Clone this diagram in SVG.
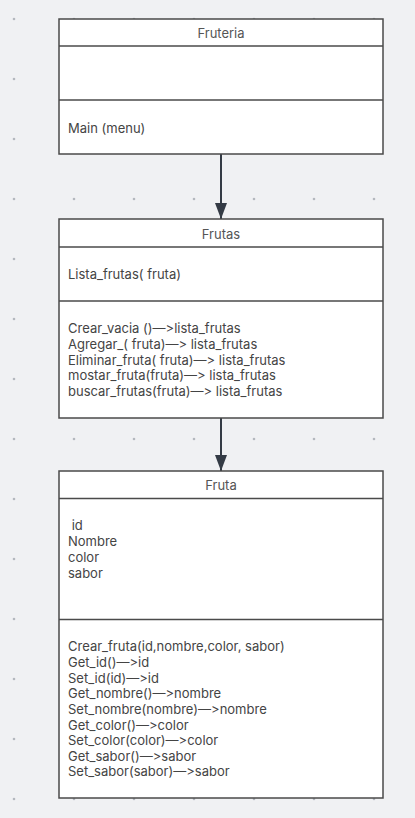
<svg xmlns="http://www.w3.org/2000/svg" width="415" height="818" viewBox="0 0 415 818">
<defs>
<pattern id="dots" x="0" y="0" width="60" height="60" patternUnits="userSpaceOnUse" patternTransform="translate(14,19)">
<circle cx="0" cy="0" r="1.3" fill="#b4b8be"/><circle cx="60" cy="0" r="1.3" fill="#b4b8be"/><circle cx="0" cy="60" r="1.3" fill="#b4b8be"/><circle cx="60" cy="60" r="1.3" fill="#b4b8be"/>
</pattern>
<marker id="arr" viewBox="0 0 16 12" refX="16" refY="6" markerWidth="16" markerHeight="12" markerUnits="userSpaceOnUse" orient="auto">
<path d="M0,0 L16,6 L0,12 z" fill="#343b45"/>
</marker>
<style>
.box{fill:#ffffff;stroke:#4a4a4a;stroke-width:1.5}
.ln{stroke:#4a4a4a;stroke-width:1.5}
text{font-family:Inter,"Liberation Sans",sans-serif;font-size:13px;font-variant-ligatures:none;font-feature-settings:"calt" 0,"liga" 0}
.hd{fill:#555555;text-anchor:middle}
.tx{fill:#444444}
.con{stroke:#343b45;stroke-width:2;fill:none}
</style>
</defs>
<rect width="415" height="818" fill="#f0f1f3"/>
<rect width="415" height="818" fill="url(#dots)"/>
<g id="connectors">
<path class="con" d="M221,154 V219" marker-end="url(#arr)"/>
<path class="con" d="M221,418 V471" marker-end="url(#arr)"/>
</g>
<g id="fruteria">
<rect class="box" x="59" y="19" width="324" height="135"/>
<line class="ln" x1="59" y1="46" x2="383" y2="46"/>
<line class="ln" x1="59" y1="100" x2="383" y2="100"/>
<text class="hd" x="221" y="38">Fruteria</text>
<text class="tx" x="68" y="133">Main (menu)</text>
</g>
<g id="frutas">
<rect class="box" x="59" y="219" width="324" height="199"/>
<line class="ln" x1="59" y1="247" x2="383" y2="247"/>
<line class="ln" x1="59" y1="301" x2="383" y2="301"/>
<text class="hd" x="221" y="238.5">Frutas</text>
<text class="tx" x="68" y="279">Lista_frutas( fruta)</text>
<text class="tx" y="333.2">
<tspan x="68">Crear_vacia ()—&gt;lista_frutas</tspan>
<tspan x="68" dy="15.75">Agregar_( fruta)—&gt; lista_frutas</tspan>
<tspan x="68" dy="15.75">Eliminar_fruta( fruta)—&gt; lista_frutas</tspan>
<tspan x="68" dy="15.75">mostar_fruta(fruta)—&gt; lista_frutas</tspan>
<tspan x="68" dy="15.75">buscar_frutas(fruta)—&gt; lista_frutas</tspan>
</text>
</g>
<g id="fruta">
<rect class="box" x="59" y="471" width="324" height="327"/>
<line class="ln" x1="59" y1="498.5" x2="383" y2="498.5"/>
<line class="ln" x1="59" y1="619.5" x2="383" y2="619.5"/>
<text class="hd" x="221" y="489.5">Fruta</text>
<text class="tx" y="530.2" xml:space="preserve">
<tspan x="68"> id</tspan>
<tspan x="68" dy="15.8">Nombre</tspan>
<tspan x="68" dy="15.8">color</tspan>
<tspan x="68" dy="15.8">sabor</tspan>
</text>
<text class="tx" y="651.2">
<tspan x="68">Crear_fruta(id,nombre,color, sabor)</tspan>
<tspan x="68" dy="15.66">Get_id()—&gt;id</tspan>
<tspan x="68" dy="15.66">Set_id(id)—&gt;id</tspan>
<tspan x="68" dy="15.66">Get_nombre()—&gt;nombre</tspan>
<tspan x="68" dy="15.66">Set_nombre(nombre)—&gt;nombre</tspan>
<tspan x="68" dy="15.66">Get_color()—&gt;color</tspan>
<tspan x="68" dy="15.66">Set_color(color)—&gt;color</tspan>
<tspan x="68" dy="15.66">Get_sabor()—&gt;sabor</tspan>
<tspan x="68" dy="15.66">Set_sabor(sabor)—&gt;sabor</tspan>
</text>
</g>
</svg>
